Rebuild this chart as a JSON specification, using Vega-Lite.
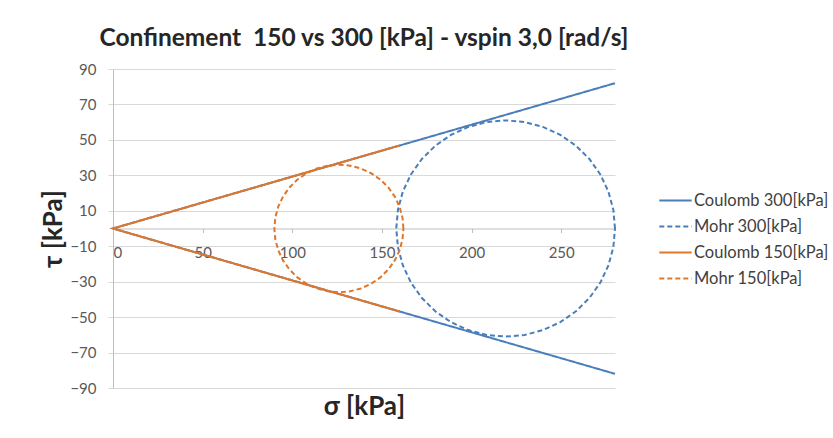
{
  "$schema": "https://vega.github.io/schema/vega-lite/v6.json",
  "width": 502,
  "height": 319,
  "autosize": "none",
  "padding": {"left": 113, "top": 69, "right": 218, "bottom": 50},
  "background": "white",
  "config": {
    "view": {"stroke": null},
    "font": "Lato"
  },
  "title": {
    "text": "Confinement\u00a0 150 vs 300 [kPa] - vspin 3,0 [rad/s]",
    "font": "Lato",
    "fontSize": 24.5,
    "fontWeight": "bold",
    "color": "#262626",
    "anchor": "middle",
    "offset": 11
  },
  "datasets": {
    "c300": [
      {"series": "Coulomb 300[kPa]", "x": 280, "y": 82, "o": 0},
      {"series": "Coulomb 300[kPa]", "x": 0, "y": 0, "o": 1},
      {"series": "Coulomb 300[kPa]", "x": 280, "y": -82, "o": 2}
    ],
    "m300": [
      {"series": "Mohr 300[kPa]", "x": 280, "y": 0, "o": 0},
      {"series": "Mohr 300[kPa]", "x": 279.07, "y": 10.59, "o": 1},
      {"series": "Mohr 300[kPa]", "x": 276.32, "y": 20.86, "o": 2},
      {"series": "Mohr 300[kPa]", "x": 271.83, "y": 30.5, "o": 3},
      {"series": "Mohr 300[kPa]", "x": 265.73, "y": 39.21, "o": 4},
      {"series": "Mohr 300[kPa]", "x": 258.21, "y": 46.73, "o": 5},
      {"series": "Mohr 300[kPa]", "x": 249.5, "y": 52.83, "o": 6},
      {"series": "Mohr 300[kPa]", "x": 239.86, "y": 57.32, "o": 7},
      {"series": "Mohr 300[kPa]", "x": 229.59, "y": 60.07, "o": 8},
      {"series": "Mohr 300[kPa]", "x": 219, "y": 61, "o": 9},
      {"series": "Mohr 300[kPa]", "x": 208.41, "y": 60.07, "o": 10},
      {"series": "Mohr 300[kPa]", "x": 198.14, "y": 57.32, "o": 11},
      {"series": "Mohr 300[kPa]", "x": 188.5, "y": 52.83, "o": 12},
      {"series": "Mohr 300[kPa]", "x": 179.79, "y": 46.73, "o": 13},
      {"series": "Mohr 300[kPa]", "x": 172.27, "y": 39.21, "o": 14},
      {"series": "Mohr 300[kPa]", "x": 166.17, "y": 30.5, "o": 15},
      {"series": "Mohr 300[kPa]", "x": 161.68, "y": 20.86, "o": 16},
      {"series": "Mohr 300[kPa]", "x": 158.93, "y": 10.59, "o": 17},
      {"series": "Mohr 300[kPa]", "x": 158, "y": 0, "o": 18},
      {"series": "Mohr 300[kPa]", "x": 158.93, "y": -10.59, "o": 19},
      {"series": "Mohr 300[kPa]", "x": 161.68, "y": -20.86, "o": 20},
      {"series": "Mohr 300[kPa]", "x": 166.17, "y": -30.5, "o": 21},
      {"series": "Mohr 300[kPa]", "x": 172.27, "y": -39.21, "o": 22},
      {"series": "Mohr 300[kPa]", "x": 179.79, "y": -46.73, "o": 23},
      {"series": "Mohr 300[kPa]", "x": 188.5, "y": -52.83, "o": 24},
      {"series": "Mohr 300[kPa]", "x": 198.14, "y": -57.32, "o": 25},
      {"series": "Mohr 300[kPa]", "x": 208.41, "y": -60.07, "o": 26},
      {"series": "Mohr 300[kPa]", "x": 219, "y": -61, "o": 27},
      {"series": "Mohr 300[kPa]", "x": 229.59, "y": -60.07, "o": 28},
      {"series": "Mohr 300[kPa]", "x": 239.86, "y": -57.32, "o": 29},
      {"series": "Mohr 300[kPa]", "x": 249.5, "y": -52.83, "o": 30},
      {"series": "Mohr 300[kPa]", "x": 258.21, "y": -46.73, "o": 31},
      {"series": "Mohr 300[kPa]", "x": 265.73, "y": -39.21, "o": 32},
      {"series": "Mohr 300[kPa]", "x": 271.83, "y": -30.5, "o": 33},
      {"series": "Mohr 300[kPa]", "x": 276.32, "y": -20.86, "o": 34},
      {"series": "Mohr 300[kPa]", "x": 279.07, "y": -10.59, "o": 35},
      {"series": "Mohr 300[kPa]", "x": 280, "y": 0, "o": 36}
    ],
    "c150": [
      {"series": "Coulomb 150[kPa]", "x": 160, "y": 46.9, "o": 0},
      {"series": "Coulomb 150[kPa]", "x": 0, "y": 0, "o": 1},
      {"series": "Coulomb 150[kPa]", "x": 160, "y": -46.9, "o": 2}
    ],
    "m150": [
      {"series": "Mohr 150[kPa]", "x": 162, "y": 0, "o": 0},
      {"series": "Mohr 150[kPa]", "x": 161.45, "y": 6.25, "o": 1},
      {"series": "Mohr 150[kPa]", "x": 159.83, "y": 12.31, "o": 2},
      {"series": "Mohr 150[kPa]", "x": 157.18, "y": 18, "o": 3},
      {"series": "Mohr 150[kPa]", "x": 153.58, "y": 23.14, "o": 4},
      {"series": "Mohr 150[kPa]", "x": 149.14, "y": 27.58, "o": 5},
      {"series": "Mohr 150[kPa]", "x": 144, "y": 31.18, "o": 6},
      {"series": "Mohr 150[kPa]", "x": 138.31, "y": 33.83, "o": 7},
      {"series": "Mohr 150[kPa]", "x": 132.25, "y": 35.45, "o": 8},
      {"series": "Mohr 150[kPa]", "x": 126, "y": 36, "o": 9},
      {"series": "Mohr 150[kPa]", "x": 119.75, "y": 35.45, "o": 10},
      {"series": "Mohr 150[kPa]", "x": 113.69, "y": 33.83, "o": 11},
      {"series": "Mohr 150[kPa]", "x": 108, "y": 31.18, "o": 12},
      {"series": "Mohr 150[kPa]", "x": 102.86, "y": 27.58, "o": 13},
      {"series": "Mohr 150[kPa]", "x": 98.42, "y": 23.14, "o": 14},
      {"series": "Mohr 150[kPa]", "x": 94.82, "y": 18, "o": 15},
      {"series": "Mohr 150[kPa]", "x": 92.17, "y": 12.31, "o": 16},
      {"series": "Mohr 150[kPa]", "x": 90.55, "y": 6.25, "o": 17},
      {"series": "Mohr 150[kPa]", "x": 90, "y": 0, "o": 18},
      {"series": "Mohr 150[kPa]", "x": 90.55, "y": -6.25, "o": 19},
      {"series": "Mohr 150[kPa]", "x": 92.17, "y": -12.31, "o": 20},
      {"series": "Mohr 150[kPa]", "x": 94.82, "y": -18, "o": 21},
      {"series": "Mohr 150[kPa]", "x": 98.42, "y": -23.14, "o": 22},
      {"series": "Mohr 150[kPa]", "x": 102.86, "y": -27.58, "o": 23},
      {"series": "Mohr 150[kPa]", "x": 108, "y": -31.18, "o": 24},
      {"series": "Mohr 150[kPa]", "x": 113.69, "y": -33.83, "o": 25},
      {"series": "Mohr 150[kPa]", "x": 119.75, "y": -35.45, "o": 26},
      {"series": "Mohr 150[kPa]", "x": 126, "y": -36, "o": 27},
      {"series": "Mohr 150[kPa]", "x": 132.25, "y": -35.45, "o": 28},
      {"series": "Mohr 150[kPa]", "x": 138.31, "y": -33.83, "o": 29},
      {"series": "Mohr 150[kPa]", "x": 144, "y": -31.18, "o": 30},
      {"series": "Mohr 150[kPa]", "x": 149.14, "y": -27.58, "o": 31},
      {"series": "Mohr 150[kPa]", "x": 153.58, "y": -23.14, "o": 32},
      {"series": "Mohr 150[kPa]", "x": 157.18, "y": -18, "o": 33},
      {"series": "Mohr 150[kPa]", "x": 159.83, "y": -12.31, "o": 34},
      {"series": "Mohr 150[kPa]", "x": 161.45, "y": -6.25, "o": 35},
      {"series": "Mohr 150[kPa]", "x": 162, "y": 0, "o": 36}
    ]
  },
  "encoding": {
    "x": {
      "field": "x",
      "type": "quantitative",
      "scale": {"domain": [0, 280], "nice": false},
      "axis": {
        "values": [0, 50, 100, 150, 200, 250],
        "grid": false,
        "offset": -159.5,
        "domainColor": "#bfbfbf",
        "tickColor": "#bfbfbf",
        "tickSize": 4,
        "labelPadding": 13,
        "labelFont": "Lato",
        "labelFontSize": 15,
        "labelColor": "#595959",
        "title": "σ [kPa]",
        "titleFont": "Lato",
        "titleFontSize": 26,
        "titleFontWeight": "bold",
        "titleColor": "#262626",
        "titleBaseline": "alphabetic",
        "titleY": 186
      }
    },
    "y": {
      "field": "y",
      "type": "quantitative",
      "scale": {"domain": [-90, 90], "nice": false},
      "axis": {
        "values": [-90, -70, -50, -30, -10, 10, 30, 50, 70, 90],
        "grid": true,
        "gridColor": "#d9d9d9",
        "domainColor": "#bfbfbf",
        "tickColor": "#d9d9d9",
        "tickSize": 5,
        "labelPadding": 12,
        "labelFont": "Lato",
        "labelFontSize": 15,
        "labelColor": "#595959",
        "title": "τ [kPa]",
        "titleFont": "Lato",
        "titleFontSize": 26,
        "titleFontWeight": "bold",
        "titleColor": "#262626",
        "titlePadding": 3
      }
    },
    "color": {
      "field": "series",
      "type": "nominal",
      "scale": {
        "domain": ["Coulomb 300[kPa]", "Mohr 300[kPa]", "Coulomb 150[kPa]", "Mohr 150[kPa]"],
        "range": ["#4a7ebb", "#4a7ebb", "#e0762a", "#e0762a"]
      },
      "legend": {
        "title": null,
        "orient": "none",
        "legendX": 545,
        "legendY": 114,
        "symbolType": "stroke",
        "symbolSize": 1050,
        "symbolStrokeWidth": 2,
        "rowPadding": -12,
        "labelFont": "Lato",
        "labelFontSize": 16.5,
        "labelColor": "#404040",
        "labelOffset": 1
      }
    },
    "strokeDash": {
      "field": "series",
      "type": "nominal",
      "scale": {
        "domain": ["Coulomb 300[kPa]", "Mohr 300[kPa]", "Coulomb 150[kPa]", "Mohr 150[kPa]"],
        "range": [[1, 0], [5, 3], [1, 0], [5, 3]]
      },
      "legend": {
        "title": null,
        "orient": "none",
        "legendX": 545,
        "legendY": 114,
        "symbolType": "stroke",
        "symbolSize": 1050,
        "symbolStrokeWidth": 2,
        "rowPadding": -12,
        "labelFont": "Lato",
        "labelFontSize": 16.5,
        "labelColor": "#404040",
        "labelOffset": 1
      }
    },
    "order": {"field": "o", "type": "quantitative"}
  },
  "layer": [
    {"data": {"name": "c300"}, "mark": {"type": "line", "strokeWidth": 2, "clip": false}},
    {"data": {"name": "m300"}, "mark": {"type": "line", "strokeWidth": 2, "clip": false}},
    {"data": {"name": "c150"}, "mark": {"type": "line", "strokeWidth": 2, "clip": false}},
    {"data": {"name": "m150"}, "mark": {"type": "line", "strokeWidth": 2, "clip": false}}
  ]
}
